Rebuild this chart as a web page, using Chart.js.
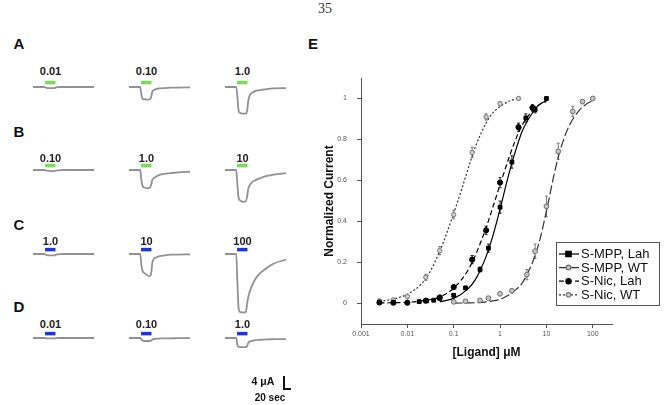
<!DOCTYPE html>
<html>
<head>
<meta charset="utf-8">
<script src="https://cdn.jsdelivr.net/npm/chart.js@4.4.0/dist/chart.umd.min.js"></script>
<style>
  body { margin: 0; width: 665px; height: 405px; background: #fff; position: relative; overflow: hidden;
         font-family: "Liberation Sans", Arial, sans-serif; color: #111; }
  .t { position: absolute; transform: translate(-50%, -50%); white-space: nowrap; }
  .panel { font-weight: bold; font-size: 15px; }
  .conc { font-weight: bold; font-size: 11px; color: #222; }
  canvas { position: absolute; }
</style>
</head>
<body>
<div class="t" style="left:325px; top:9px; font-family:'Liberation Serif','DejaVu Serif',serif; font-size:14px; color:#333;">35</div>
<div class="t panel" style="left:313px; top:43px;">E</div>
<div id="traces"></div>
<canvas id="doseChart" width="365" height="310" style="left:300px; top:60px;"></canvas>

<!-- scale bar -->
<div class="t" style="left:263px; top:381px; font-weight:bold; font-size:10.5px;">4 μA</div>
<div style="position:absolute; left:283px; top:376px; width:6px; height:12px; border-left:2.5px solid #111; border-bottom:2.5px solid #111;"></div>
<div class="t" style="left:270px; top:397px; font-weight:bold; font-size:10px;">20 sec</div>

<script>
// ---- panels A-D: current traces (time in sec, current in µA) ----
const traceTime = [0, 28, 31, 34, 38, 45, 52, 55, 58, 62, 68, 76, 88, 104, 122, 152]
const barTime = [30, 56]
const barLevel = 1.25

const traceA1 = [0, 0, -0.1, -0.25, -0.3, -0.3, -0.3, -0.25, -0.1, -0.05, 0, 0, 0, 0, 0, 0]
const traceA2 = [0, 0, -2.3, -3.4, -3.5, -3.6, -3.5, -2.9, -1.4, -0.9, -0.6, -0.4, -0.3, -0.2, -0.15, -0.1]
const traceA3 = [0, 0, -2.9, -6.9, -7.4, -7.6, -7.6, -6.9, -4.0, -2.3, -1.6, -1.1, -0.9, -0.6, -0.4, -0.3]
const traceB1 = [0, 0, -0.1, -0.2, -0.25, -0.3, -0.3, -0.25, -0.15, -0.1, -0.05, 0, 0, 0, 0, 0]
const traceB2 = [0, 0, -2.9, -4.6, -5.0, -5.2, -5.1, -4.3, -2.9, -2.3, -1.9, -1.4, -1.1, -0.9, -0.7, -0.5]
const traceB3 = [0, 0, -4.3, -8.0, -8.7, -9.1, -8.9, -7.7, -5.4, -4.3, -3.4, -2.9, -2.3, -1.7, -1.3, -0.9]
const traceC1 = [0, 0, -0.15, -0.3, -0.4, -0.4, -0.4, -0.3, -0.15, -0.1, -0.05, 0, 0, 0, 0, 0]
const traceC2 = [0, 0, -3.4, -4.9, -5.4, -6.0, -6.4, -5.7, -2.6, -1.4, -1.0, -0.6, -0.4, -0.2, -0.15, -0.1]
const traceC3 = [0, 0, -8.6, -15.7, -16.6, -16.7, -16.6, -14.3, -12.3, -10.6, -8.9, -7.1, -5.4, -4.0, -2.7, -1.6]
const traceD1 = [0, 0, -0.05, -0.1, -0.1, -0.1, -0.1, -0.1, -0.05, 0, 0, 0, 0, 0, 0, 0]
const traceD2 = [0, 0, -0.4, -0.7, -0.85, -0.85, -0.85, -0.75, -0.45, -0.3, -0.2, -0.15, -0.1, -0.1, -0.05, -0.05]
const traceD3 = [0, 0, -2.0, -2.5, -2.6, -2.6, -2.6, -2.3, -1.4, -1.0, -0.8, -0.6, -0.5, -0.4, -0.35, -0.3]

const rowLetters = ["A", "B", "C", "D"]
const concLabels = [
  ["0.01", "0.10", "1.0"],
  ["0.10", "1.0", "10"],
  ["1.0", "10", "100"],
  ["0.01", "0.10", "1.0"],
]
const rowTraces = [
  [traceA1, traceA2, traceA3],
  [traceB1, traceB2, traceB3],
  [traceC1, traceC2, traceC3],
  [traceD1, traceD2, traceD3],
]

// ---- panel E: dose-response (conc in µM, normalized current) ----
const seriesNames = ["S-MPP, Lah", "S-MPP, WT", "S-Nic, Lah", "S-Nic, WT"]

const mppLahConc = [0.018, 0.026, 0.037, 0.05, 0.1, 0.18, 0.37, 0.56, 1.0, 1.8, 3.6, 5.7, 10]
const mppLahResp = [0.009, 0.013, 0.016, 0.025, 0.04, 0.076, 0.166, 0.27, 0.47, 0.69, 0.905, 0.945, 1.0]
const mppLahErr = [0.004, 0.004, 0.004, 0.005, 0.006, 0.008, 0.012, 0.02, 0.03, 0.03, 0.02, 0.015, 0.003]

const mppWtConc = [0.1, 0.18, 0.37, 0.56, 1.0, 1.8, 3.8, 5.7, 10, 18, 37, 60, 100]
const mppWtResp = [0.008, 0.011, 0.015, 0.026, 0.047, 0.062, 0.141, 0.255, 0.474, 0.742, 0.937, 0.985, 1.0]
const mppWtErr = [0.004, 0.004, 0.005, 0.006, 0.008, 0.01, 0.025, 0.035, 0.05, 0.04, 0.025, 0.01, 0.004]

const nicLahConc = [0.0025, 0.005, 0.01, 0.025, 0.05, 0.1, 0.25, 0.5, 1.0, 2.5, 5]
const nicLahResp = [0.005, 0.004, 0.004, 0.014, 0.03, 0.08, 0.214, 0.357, 0.59, 0.86, 0.955]
const nicLahErr = [0.004, 0.004, 0.004, 0.005, 0.006, 0.01, 0.02, 0.02, 0.025, 0.02, 0.015]

const nicWtConc = [0.0025, 0.005, 0.01, 0.025, 0.05, 0.1, 0.25, 0.5, 1.0, 2.5]
const nicWtResp = [0.013, 0.018, 0.034, 0.128, 0.258, 0.433, 0.737, 0.91, 0.974, 1.0]
const nicWtErr = [0.005, 0.005, 0.008, 0.015, 0.02, 0.02, 0.025, 0.015, 0.01, 0.004]

// fitted curves
const mppLahFitConc = [0.05, 0.1, 0.2, 0.3, 0.5, 0.7, 1, 1.5, 2, 3, 5, 7, 10]
const mppLahFitResp = [0.008, 0.025, 0.07, 0.12, 0.23, 0.33, 0.46, 0.62, 0.72, 0.84, 0.93, 0.97, 0.99]
const mppWtFitConc = [0.1, 0.3, 0.5, 1, 1.5, 2, 3, 5, 7, 10, 15, 20, 30, 50, 70, 100]
const mppWtFitResp = [0.002, 0.004, 0.008, 0.02, 0.04, 0.06, 0.1, 0.2, 0.3, 0.45, 0.64, 0.75, 0.86, 0.94, 0.97, 0.99]
const nicLahFitConc = [0.0025, 0.01, 0.03, 0.05, 0.1, 0.2, 0.3, 0.5, 0.7, 1, 1.5, 2, 3, 5, 7, 10]
const nicLahFitResp = [0.003, 0.006, 0.018, 0.032, 0.075, 0.16, 0.24, 0.37, 0.47, 0.58, 0.7, 0.78, 0.87, 0.94, 0.97, 0.985]
const nicWtFitConc = [0.0025, 0.005, 0.01, 0.02, 0.03, 0.05, 0.07, 0.1, 0.15, 0.2, 0.3, 0.5, 0.7, 1, 1.5, 2.5]
const nicWtFitResp = [0.01, 0.022, 0.045, 0.095, 0.15, 0.255, 0.34, 0.44, 0.56, 0.65, 0.77, 0.88, 0.93, 0.96, 0.985, 1.0]

const xTickValues = [0.001, 0.01, 0.1, 1, 10, 100]
const yTickValues = [0, 0.2, 0.4, 0.6, 0.8, 1]

Chart.defaults.font.family = '"Liberation Sans", Arial, sans-serif'

// ---------- traces ----------
const colLeft = [33, 129, 225]
const rowBase = [86.7, 170, 253.5, 337.7]
const labelRise = [16, 11.7, 12.2, 13.7]
const barColors = ["#77dd55", "#77dd55", "#1f35d6", "#1f35d6"]
const yMax = 2, pxPerUA = 3.5, traceH = 68
const holder = document.getElementById("traces")

rowLetters.forEach((letter, r) => {
  const lab = document.createElement("div")
  lab.className = "t panel"
  lab.style.left = "19px"
  lab.style.top = (rowBase[r] - [43.3, 39.3, 29.5, 32][r]) + "px"
  lab.textContent = letter
  holder.appendChild(lab)

  rowTraces[r].forEach((current, c) => {
    const cv = document.createElement("canvas")
    cv.width = 61
    cv.height = traceH
    cv.style.left = colLeft[c] + "px"
    cv.style.top = (rowBase[r] - yMax * pxPerUA) + "px"
    holder.appendChild(cv)

    const txt = document.createElement("div")
    txt.className = "t conc"
    txt.style.left = (colLeft[c] + 17.5) + "px"
    txt.style.top = (rowBase[r] - labelRise[r]) + "px"
    txt.textContent = concLabels[r][c]
    holder.appendChild(txt)

    new Chart(cv, {
      type: "line",
      data: {
        datasets: [
          {
            data: traceTime.map((t, i) => ({ x: t, y: current[i] })),
            borderColor: "#929292",
            borderWidth: 1.8,
            pointRadius: 0,
            cubicInterpolationMode: "monotone",
          },
          {
            data: barTime.map(t => ({ x: t, y: barLevel })),
            borderColor: barColors[r],
            borderWidth: 3.5,
            pointRadius: 0,
          },
        ],
      },
      options: {
        responsive: false,
        animation: false,
        events: [],
        layout: { padding: 0 },
        plugins: { legend: { display: false }, tooltip: { enabled: false } },
        scales: {
          x: { type: "linear", min: 0, max: 152, display: false },
          y: { min: yMax - traceH / pxPerUA, max: yMax, display: false },
        },
      },
    })
  })
})

// ---------- dose response ----------
const pts = (xs, ys) => xs.map((x, i) => ({ x, y: ys[i] }))

const styles = [
  { line: "#000", dash: [], shape: "rect", fill: "#000", edge: "#000", r: 2.7 },
  { line: "#333", dash: [9, 3], shape: "circle", fill: "#c4c4c4", edge: "#6e6e6e", r: 2.4 },
  { line: "#000", dash: [5, 3], shape: "circle", fill: "#000", edge: "#000", r: 2.6 },
  { line: "#333", dash: [2, 2], shape: "circle", fill: "#cfcfcf", edge: "#7a7a7a", r: 2.2 },
]
const pointSets = [
  [mppLahConc, mppLahResp, mppLahErr],
  [mppWtConc, mppWtResp, mppWtErr],
  [nicLahConc, nicLahResp, nicLahErr],
  [nicWtConc, nicWtResp, nicWtErr],
]
const fitSets = [
  [mppLahFitConc, mppLahFitResp],
  [mppWtFitConc, mppWtFitResp],
  [nicLahFitConc, nicLahFitResp],
  [nicWtFitConc, nicWtFitResp],
]

const datasets = []
pointSets.forEach(([xs, ys, errs], i) => {
  const s = styles[i]
  datasets.push({
    label: seriesNames[i],
    data: pts(xs, ys),
    errors: errs,
    showLine: false,
    pointStyle: s.shape,
    pointRadius: s.r,
    pointBackgroundColor: s.fill,
    pointBorderColor: s.edge,
    pointBorderWidth: 1,
    order: 0,
  })
})
fitSets.forEach(([xs, ys], i) => {
  const s = styles[i]
  datasets.push({
    label: seriesNames[i] + " fit",
    data: pts(xs, ys),
    showLine: true,
    borderColor: s.line,
    borderWidth: 1.2,
    borderDash: s.dash,
    pointRadius: 0,
    cubicInterpolationMode: "monotone",
    order: 1,
  })
})

const errorBars = {
  id: "errorBars",
  beforeDatasetsDraw(chart) {
    const { ctx, scales } = chart
    ctx.save()
    chart.data.datasets.forEach((ds, i) => {
      if (!ds.errors) return
      ctx.strokeStyle = styles[i].edge === "#000" ? "#222" : "#777"
      ctx.lineWidth = 1
      ds.data.forEach((p, j) => {
        const x = scales.x.getPixelForValue(p.x)
        const y1 = scales.y.getPixelForValue(p.y - ds.errors[j])
        const y2 = scales.y.getPixelForValue(p.y + ds.errors[j])
        ctx.beginPath()
        ctx.moveTo(x, y1); ctx.lineTo(x, y2)
        ctx.moveTo(x - 1.5, y1); ctx.lineTo(x + 1.5, y1)
        ctx.moveTo(x - 1.5, y2); ctx.lineTo(x + 1.5, y2)
        ctx.stroke()
      })
    })
    ctx.restore()
  },
}

const boxLegend = {
  id: "boxLegend",
  afterDraw(chart) {
    const ctx = chart.ctx
    ctx.save()
    ctx.strokeStyle = "#555"
    ctx.lineWidth = 1
    ctx.strokeRect(256.5, 182.5, 103, 63)
    ctx.font = '13px "Liberation Sans", Arial, sans-serif'
    ctx.fillStyle = "#111"
    ctx.textBaseline = "middle"
    seriesNames.forEach((name, i) => {
      const s = styles[i]
      const y = 194 + i * 13.6
      ctx.setLineDash(s.dash)
      ctx.strokeStyle = s.line
      ctx.lineWidth = 1.2
      ctx.beginPath(); ctx.moveTo(259, y); ctx.lineTo(279, y); ctx.stroke()
      ctx.setLineDash([])
      ctx.fillStyle = s.fill
      ctx.strokeStyle = s.edge
      ctx.beginPath()
      if (s.shape === "rect") ctx.rect(268.5 - s.r, y - s.r, s.r * 2, s.r * 2)
      else ctx.arc(268.5, y, s.r, 0, Math.PI * 2)
      ctx.fill(); ctx.stroke()
      ctx.fillStyle = "#111"
      ctx.fillText(name, 281, y + 0.5)
    })
    ctx.restore()
  },
}

new Chart(document.getElementById("doseChart"), {
  type: "scatter",
  data: { datasets },
  options: {
    responsive: false,
    animation: false,
    events: [],
    layout: { padding: { top: 18, right: 53, left: 0, bottom: 0 } },
    plugins: { legend: { display: false }, tooltip: { enabled: false } },
    scales: {
      x: {
        type: "logarithmic",
        min: 0.001,
        max: 260,
        afterBuildTicks: s => { s.ticks = xTickValues.map(v => ({ value: v })) },
        afterFit: s => { s.height = 46 },
        ticks: {
          autoSkip: false, maxRotation: 0, padding: 2,
          font: { size: 7 }, color: "#555",
          callback: v => String(v),
        },
        grid: { drawOnChartArea: false, drawTicks: true, tickLength: 4, color: "#555" },
        border: { display: true, color: "#555", width: 1 },
        title: { display: true, text: "[Ligand] μM", font: { size: 12, weight: "bold" }, color: "#111", padding: { top: 0, bottom: 10 } },
      },
      y: {
        min: -0.1,
        max: 1.1,
        afterBuildTicks: s => { s.ticks = yTickValues.map(v => ({ value: v })) },
        afterFit: s => { s.width = 61 },
        ticks: {
          padding: 10, font: { size: 7 }, color: "#555",
          callback: v => String(Math.round(v * 10) / 10),
        },
        grid: { drawOnChartArea: false, drawTicks: true, tickLength: 4, color: "#555" },
        border: { display: true, color: "#555", width: 1 },
        title: { display: true, text: "Normalized Current", font: { size: 12, weight: "bold" }, color: "#111", padding: { top: 22, bottom: 0 } },
      },
    },
  },
  plugins: [errorBars, boxLegend],
})
</script>
</body>
</html>
